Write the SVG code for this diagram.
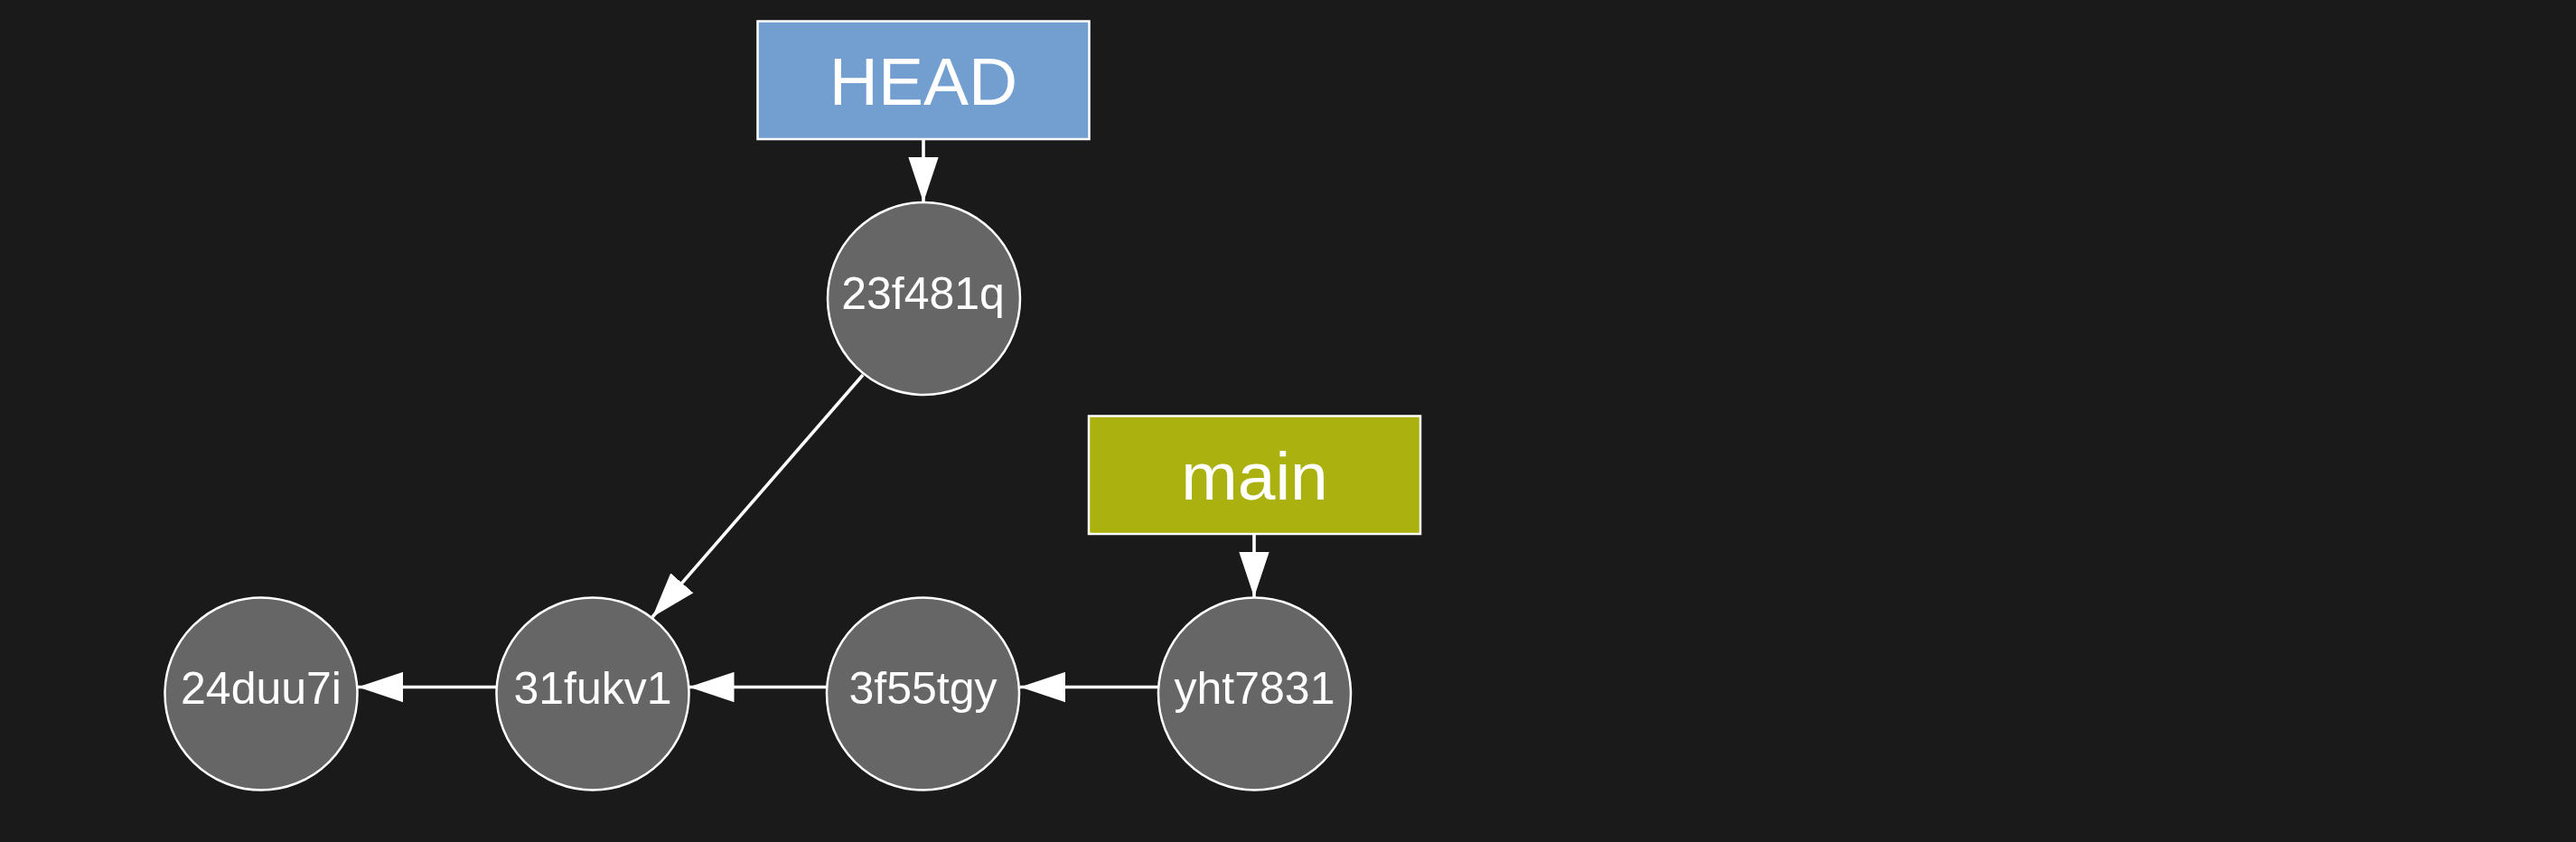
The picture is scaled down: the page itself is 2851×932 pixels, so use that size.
<svg xmlns="http://www.w3.org/2000/svg" width="2851" height="932" viewBox="0 0 2851 932">
  <style>
    .commit circle { fill: #666666; stroke: #ffffff; stroke-width: 2.5; }
    .ref rect { stroke: #ffffff; stroke-width: 2.5; }
    .clabel { font-family: "Liberation Sans", Arial, sans-serif; font-size: 50px; fill: #ffffff; text-anchor: middle; }
    .rlabel { font-family: "Liberation Sans", Arial, sans-serif; font-size: 75px; fill: #ffffff; text-anchor: middle; }
    .edge { stroke: #ffffff; stroke-width: 3.6; fill: none; marker-end: url(#arrow); }
  </style>
  <defs>
    <marker id="arrow" markerUnits="userSpaceOnUse" markerWidth="50" markerHeight="34" viewBox="0 0 48 32" refX="48" refY="16" orient="auto">
      <path d="M0,0 L48,16 L0,32 z" fill="#ffffff"/>
    </marker>
  </defs>
  <rect x="0" y="0" width="2851" height="932" fill="#1a1a1a"/>

  <g id="connectors">
    <line class="edge" x1="1022" y1="155" x2="1022" y2="224"/>
    <line class="edge" x1="1388" y1="592" x2="1388" y2="661"/>
    <line class="edge" x1="955" y1="415" x2="722" y2="683"/>
    <line class="edge" x1="1282" y1="760.5" x2="1129" y2="760.5"/>
    <line class="edge" x1="915" y1="760.5" x2="762.5" y2="760.5"/>
    <line class="edge" x1="549.5" y1="760.5" x2="396" y2="760.5"/>
  </g>

  <g id="HEAD" class="ref">
    <rect x="838.5" y="23.5" width="367" height="130.5" fill="#729fcf"/>
    <text class="rlabel" x="1022" y="115.5">HEAD</text>
  </g>

  <g id="main" class="ref">
    <rect x="1205" y="460.5" width="367" height="130.5" fill="#abb10e"/>
    <text class="rlabel" x="1388.5" y="552.5">main</text>
  </g>

  <g id="c23f481q" class="commit">
    <circle cx="1022.5" cy="330.5" r="106.5"/>
    <text class="clabel" x="1021.5" y="341.5">23f481q</text>
  </g>

  <g id="c24duu7i" class="commit">
    <circle cx="289" cy="768" r="106.5"/>
    <text class="clabel" x="289" y="778.5">24duu7i</text>
  </g>

  <g id="c31fukv1" class="commit">
    <circle cx="656" cy="768" r="106.5"/>
    <text class="clabel" x="656" y="778.5">31fukv1</text>
  </g>

  <g id="c3f55tgy" class="commit">
    <circle cx="1021.5" cy="768" r="106.5"/>
    <text class="clabel" x="1021.5" y="778.5">3f55tgy</text>
  </g>

  <g id="cyht7831" class="commit">
    <circle cx="1388.5" cy="768" r="106.5"/>
    <text class="clabel" x="1388.5" y="778.5">yht7831</text>
  </g>
</svg>
